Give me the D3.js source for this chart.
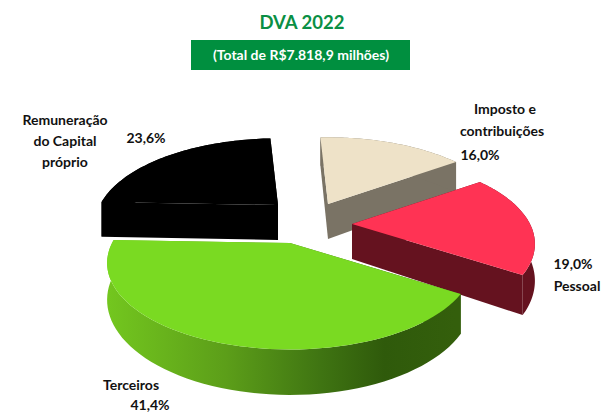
<!DOCTYPE html>
<html>
<head>
<meta charset="utf-8">
<script src="https://cdn.jsdelivr.net/npm/d3@7/dist/d3.min.js"></script>
<style>
  html, body { margin: 0; padding: 0; background: #fff; }
  text { font-family: Lato, "Open Sans", sans-serif; font-weight: 700; }
</style>
</head>
<body>
<div id="chart"></div>
<script>
const categories = ["Imposto e contribuições", "Pessoal", "Terceiros", "Remuneração do Capital próprio"];
const values = [16.0, 19.0, 41.4, 23.6];
const valueLabels = ["16,0%", "19,0%", "41,4%", "23,6%"];
const topColors = ["#eee2c8", "#ff3354", "#7ada22", "#000000"];
const wallColors = ["#7a7365", "#65121f", "url(#greenWall)", "#000000"];

const width = 610, height = 414;
const svg = d3.select("#chart").append("svg")
  .attr("width", width)
  .attr("height", height)
  .style("display", "block");

// green side wall has a lighting gradient
const grad = svg.append("defs").append("linearGradient")
  .attr("id", "greenWall")
  .attr("gradientUnits", "userSpaceOnUse")
  .attr("x1", 103).attr("x2", 455).attr("y1", 0).attr("y2", 0);
[[0, "#74c81f"], [0.35, "#5c9e19"], [0.62, "#3f7412"], [0.8, "#2f5a0b"], [1, "#345f0c"]].forEach((s) => {
  grad.append("stop").attr("offset", s[0]).attr("stop-color", s[1]);
});

// title
svg.append("text").attr("x", 302).attr("y", 29).attr("text-anchor", "middle")
  .attr("font-size", 18.5).attr("fill", "#0a8f44").text("DVA 2022");
svg.append("rect").attr("x", 191).attr("y", 40).attr("width", 219).attr("height", 30).attr("fill", "#008f3f");
svg.append("text").attr("x", 301).attr("y", 60).attr("text-anchor", "middle")
  .attr("font-size", 14).attr("fill", "#fff").text("(Total de R$7.818,9 milhões)");

// fake 3d: a tilted disc with some perspective, front gets bigger
const rx = 178, ry = 82, persp = 0.23, depth = 35;
const apex = [[328, 204], [352, 224], [290, 243], [278, 205]];

function project(angle, r, i, drop) {
  const u = Math.sin(angle) * r, v = -Math.cos(angle) * r;
  const s = 1 / (1 - persp * v);
  return [apex[i][0] + rx * u * s, apex[i][1] + ry * v * s + drop * s];
}

const pie = d3.pie().sort(null).startAngle(-3 * Math.PI / 180).endAngle(357 * Math.PI / 180);
const arcs = pie(values);
const line = d3.line();

function rim(d, i, drop) {
  const n = 60;
  return d3.range(n + 1).map((k) => project(d.startAngle + (d.endAngle - d.startAngle) * k / n, 1, i, drop));
}

// paint back to front
[3, 0, 1, 2].forEach((i) => {
  const d = arcs[i];
  const top = rim(d, i, 0), bottom = rim(d, i, depth);
  const c0 = project(0, 0, i, 0), c1 = project(0, 0, i, depth);
  const g = svg.append("g");
  // cut faces
  [d.startAngle, d.endAngle].forEach((a) => {
    g.append("path").attr("fill", wallColors[i])
      .attr("d", line([c0, project(a, 1, i, 0), project(a, 1, i, depth), c1]) + "Z");
  });
  // outer wall
  g.append("path").attr("fill", wallColors[i])
    .attr("d", line(top.concat(bottom.slice().reverse())) + "Z");
  // top face
  g.append("path").attr("fill", topColors[i])
    .attr("d", line([c0].concat(top)) + "Z");
});

// labels
const labels = svg.append("g").attr("font-size", 14).attr("fill", "#111");
function put(x, y, t, anchor) {
  labels.append("text").attr("x", x).attr("y", y).attr("text-anchor", anchor || "middle").text(t);
}
put(505, 114, "Imposto e");
put(502, 136, "contribuições");
put(480, 160, valueLabels[0]);
put(573, 269, valueLabels[1]);
put(577, 291, categories[1]);
put(131, 390, categories[2]);
put(150, 410, valueLabels[2]);
put(65, 125, "Remuneração");
put(65, 146, "do Capital");
put(65, 167, "próprio");
put(146, 143, valueLabels[3]);
</script>
</body>
</html>
